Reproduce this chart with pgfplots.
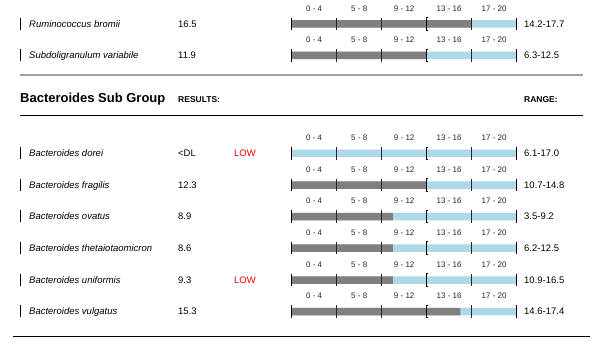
\documentclass[border=0pt]{standalone}
\usepackage{pgfplots}
\pgfplotsset{compat=1.18}
\usepackage{fontspec}
\setmainfont{Liberation Sans}
\definecolor{barblue}{RGB}{173,216,230}
\definecolor{bargray}{RGB}{128,128,128}
\definecolor{sepgray}{RGB}{160,160,160}
\definecolor{lowred}{RGB}{255,0,0}
\pgfdeclareplotmark{lbracket}{%
  \pgfpathmoveto{\pgfqpoint{1.6pt}{\pgfplotmarksize}}%
  \pgfpathlineto{\pgfqpoint{0pt}{\pgfplotmarksize}}%
  \pgfpathlineto{\pgfqpoint{0pt}{-\pgfplotmarksize}}%
  \pgfpathlineto{\pgfqpoint{1.6pt}{-\pgfplotmarksize}}%
  \pgfusepathqstroke}
\begin{document}
\begin{tikzpicture}
\useasboundingbox (0pt,0pt) rectangle (606pt,-344pt);
\begin{axis}[at={(0pt,0pt)}, anchor=north west, scale only axis,
  width=606pt, height=344pt, xmin=-25.9289, xmax=27.9378,
  ymin=0, ymax=344, y dir=reverse, hide axis, clip=false]
% full range background (0-20)
\addplot[xbar, bar shift=0pt, bar width=7.5pt, fill=barblue, draw=none]
  coordinates {(20,24) (20,55.5) (20,153.5) (20,185) (20,216.5) (20,248) (20,280) (20,311.5)};
% result bars
\addplot[xbar, bar shift=0pt, bar width=7.5pt, fill=bargray, draw=none]
  coordinates {(16,24) (12,55.5) (12,185) (9,216.5) (9,248) (9,280) (15,311.5)};
% end ticks
\addplot[only marks, color=black, mark=|, mark size=6.2pt, mark options={line width=1.1pt, draw=black}]
  coordinates {(0,24) (20,24) (0,55.5) (20,55.5) (0,153.5) (20,153.5) (0,185) (20,185)
               (0,216.5) (20,216.5) (0,248) (20,248) (0,280) (20,280) (0,311.5) (20,311.5)};
% inner ticks
\addplot[only marks, color=black, mark=|, mark size=6.2pt, mark options={line width=0.75pt, draw=black!85}]
  coordinates {(4,24) (8,24) (16,24) (4,55.5) (8,55.5) (16,55.5) (4,153.5) (8,153.5) (16,153.5)
               (4,185) (8,185) (16,185) (4,216.5) (8,216.5) (16,216.5) (4,248) (8,248) (16,248)
               (4,280) (8,280) (16,280) (4,311.5) (8,311.5) (16,311.5)};
% bracket tick at 12
\addplot[only marks, color=black, mark=lbracket, mark size=6.2pt, mark options={line width=1.1pt, draw=black}]
  coordinates {(12,24) (12,55.5) (12,153.5) (12,185) (12,216.5) (12,248) (12,280) (12,311.5)};
\end{axis}
\begin{scope}[x=1pt, y=-1pt, every node/.style={inner sep=0pt, text depth=0pt}]
\draw[sepgray, line width=2pt] (20,75) -- (583,75);
\draw[black, line width=1pt] (20,116) -- (583,116);
\draw[black, line width=1pt] (13,336.5) -- (590,336.5);
\node[anchor=west, font=\fontsize{13}{15}\selectfont\bfseries, text height=9.3pt] at (20,98) {Bacteroides Sub Group};
\node[anchor=west, font=\fontsize{8.5}{10}\selectfont\bfseries, text height=6.1pt] at (178,99.5) {RESULTS:};
\node[anchor=west, font=\fontsize{8.5}{10}\selectfont\bfseries, text height=6.1pt] at (524,99.5) {RANGE:};
\foreach \y/\name/\val/\flag/\rng in {
  24/Ruminococcus bromii/16.5//14.2-17.7,
  55.5/Subdoligranulum variabile/11.9//6.3-12.5,
  153.5/Bacteroides dorei/<DL/LOW/6.1-17.0,
  185/Bacteroides fragilis/12.3//10.7-14.8,
  216.5/Bacteroides ovatus/8.9//3.5-9.2,
  248/Bacteroides thetaiotaomicron/8.6//6.2-12.5,
  280/Bacteroides uniformis/9.3/LOW/10.9-16.5,
  311.5/Bacteroides vulgatus/15.3//14.6-17.4}{
  \draw[black, line width=1.3pt] (20.7,\y-6) -- (20.7,\y+6);
  \node[anchor=west, font=\fontsize{9.5}{11}\selectfont\itshape, text height=6.8pt] at (29,\y) {\name};
  \node[anchor=west, font=\fontsize{9.5}{11}\selectfont, text height=6.8pt] at (178,\y) {\val};
  \node[anchor=west, font=\fontsize{9.5}{11}\selectfont, text height=6.8pt, text=lowred] at (234,\y) {\flag};
  \node[anchor=west, font=\fontsize{9.5}{11}\selectfont, text height=6.8pt] at (524,\y) {\rng};
  \foreach \c/\l in {2/0 - 4, 6/5 - 8, 10/9 - 12, 14/13 - 16, 18/17 - 20}{
    \node[font=\fontsize{8}{9.5}\selectfont, text height=5.7pt, text=black!85] at (291.7+\c*11.25,\y-15.5) {\l};
  }
}
\end{scope}
\end{tikzpicture}
\end{document}
